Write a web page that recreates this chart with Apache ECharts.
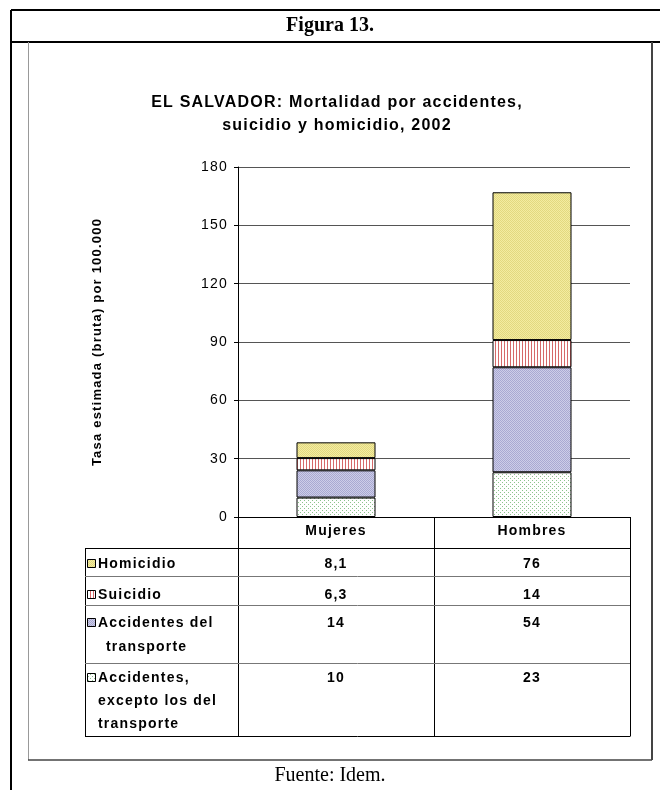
<!DOCTYPE html>
<html>
<head>
<meta charset="utf-8">
<script src="https://cdn.jsdelivr.net/npm/echarts@6/dist/echarts.min.js"></script>
<style>
html,body{margin:0;padding:0;background:#fff;}
#chart{width:660px;height:790px;}
</style>
</head>
<body>
<div id="chart"></div>
<script>
// ---- data ----
const categories = ['Mujeres', 'Hombres'];
const accidentesExcepto = [10, 23];
const accidentesTransporte = [14, 54];
const suicidio = [6.3, 14];
const homicidio = [8.1, 76];
const yTickMin = 0, yTickMax = 180, yTickStep = 30;
const rowLabels = {
  homicidio: ['Homicidio'],
  suicidio: ['Suicidio'],
  transporte: ['Accidentes del', 'transporte'],
  excepto: ['Accidentes,', 'excepto los del', 'transporte']
};
const seriesNames = {
  homicidio: 'Homicidio',
  suicidio: 'Suicidio',
  transporte: 'Accidentes del transporte',
  excepto: 'Accidentes, excepto los del transporte'
};
const figTitle = 'Figura 13.';
const chartTitle = 'EL SALVADOR: Mortalidad por accidentes,\nsuicidio y homicidio, 2002';
const yName = 'Tasa estimada (bruta) por 100.000';
const source = 'Fuente: Idem.';

// expanded character spacing for the sans-serif chart texts (as in the original)
(function () {
  const proto = CanvasRenderingContext2D.prototype;
  const origFill = proto.fillText;
  proto.fillText = function (t, x, y, m) {
    if ('letterSpacing' in this) {
      this.letterSpacing = /Sans/.test(this.font) ? '1.2px' : '0px';
    }
    return m === undefined ? origFill.call(this, t, x, y) : origFill.call(this, t, x, y, m);
  };
})();

// ---- patterns ----
function makePattern(w, h, bg, fg, pts) {
  const c = document.createElement('canvas');
  c.width = w; c.height = h;
  const ctx = c.getContext('2d');
  ctx.fillStyle = bg; ctx.fillRect(0, 0, w, h);
  ctx.fillStyle = fg;
  pts.forEach(p => ctx.fillRect(p[0], p[1], p[2] || 1, p[3] || 1));
  return {image: c, repeat: 'repeat'};
}
const patYellow = makePattern(2, 2, '#F3ECA0', '#E2D880', [[0,0],[1,1]]);
const patRed = makePattern(3, 1, '#FFFFFF', '#D66A6A', [[0,0]]);
const patBlue = makePattern(2, 2, '#CDCDE8', '#A9A9D2', [[0,0],[1,1]]);
const patGreen = makePattern(4, 4, '#FFFFFF', '#8CC48C', [[0,0],[2,2]]);
const fills = {homicidio: patYellow, suicidio: patRed, transporte: patBlue, excepto: patGreen};
const values = {homicidio: homicidio, suicidio: suicidio, transporte: accidentesTransporte, excepto: accidentesExcepto};

// ---- layout ----
const G = {left: 238, top: 167, width: 392, height: 350};
const gBottom = G.top + G.height;
const gRight = G.left + G.width;
const tableLeft = 85;
const headerBottom = 548;
const rowOrder = ['homicidio', 'suicidio', 'transporte', 'excepto'];
const rowBottoms = [576, 605, 663, 736];
const rowTextY = [[564], [595], [623, 647], [678, 701, 724]];
const colW = G.width / categories.length;
const sans = '"Liberation Sans", Arial, sans-serif';
const labelFont = 'bold 14px ' + sans;

function fmt(v) { return String(v).replace('.', ','); }

const graphics = [];
function line(x1, y1, x2, y2, color, w) {
  graphics.push({type: 'line', silent: true, z: 100,
    shape: {x1: x1, y1: y1, x2: x2, y2: y2},
    style: {stroke: color || '#000', lineWidth: w || 1}});
}
function text(t, x, y, font, align, fill) {
  graphics.push({type: 'text', silent: true, z: 100,
    style: {text: t, x: x, y: y, font: font, align: align || 'left', verticalAlign: 'middle', fill: fill || '#000'}});
}

// outer frame
line(11, 10, 660, 10, '#000', 2);
line(11, 42, 660, 42, '#000', 2);
line(11, 10, 11, 790, '#000', 2);
// inner box
line(28.5, 42, 28.5, 760, '#999', 1);
line(28, 760, 652, 760, '#444', 1.5);
line(652, 42, 652, 760, '#444', 2);

text(figTitle, 330, 26, 'bold 20px "Liberation Serif", "Times New Roman", serif', 'center');
text(source, 330, 776, '20px "Liberation Serif", "Times New Roman", serif', 'center');

// table lines
line(G.left + 0.5, gBottom, G.left + 0.5, rowBottoms[3] + 0.5);
for (let i = 1; i <= categories.length; i++) {
  const x = G.left + colW * i + 0.5;
  line(x, gBottom, x, rowBottoms[3] + 0.5);
}
line(G.left, headerBottom + 0.5, gRight, headerBottom + 0.5);
line(tableLeft + 0.5, headerBottom, tableLeft + 0.5, rowBottoms[3] + 0.5);
line(tableLeft, headerBottom + 0.5, G.left, headerBottom + 0.5);
rowBottoms.forEach((yb, i) => line(tableLeft, yb + 0.5, gRight, yb + 0.5, i === rowBottoms.length - 1 ? '#000' : '#777'));

// table rows
rowOrder.forEach((key, r) => {
  const ys = rowTextY[r];
  graphics.push({type: 'rect', silent: true, z: 100,
    shape: {x: 87.5, y: ys[0] - 4.5, width: 8, height: 8},
    style: {fill: fills[key], stroke: '#000', lineWidth: 1}});
  rowLabels[key].forEach((t, j) => {
    const indent = (key === 'transporte' && j === 1) ? 106 : 98;
    text(t, indent, ys[j], labelFont, 'left');
  });
  values[key].forEach((v, c) => {
    text(fmt(v), G.left + colW * (c + 0.5), ys[0], labelFont, 'center');
  });
});

function barSeries(key) {
  return {
    name: seriesNames[key], type: 'bar', stack: 'total', data: values[key],
    barWidth: 79,
    itemStyle: {color: fills[key], borderColor: '#000', borderWidth: 1},
    emphasis: {disabled: true}
  };
}

const chart = echarts.init(document.getElementById('chart'), null, {renderer: 'canvas'});
chart.setOption({
  animation: false,
  backgroundColor: '#fff',
  title: {
    text: chartTitle, left: 337, top: 91, textAlign: 'center', padding: 0,
    textStyle: {fontFamily: sans, fontWeight: 'bold', fontSize: 16, lineHeight: 23, color: '#000'}
  },
  grid: {left: G.left, top: G.top, width: G.width, height: G.height, containLabel: false},
  xAxis: {
    type: 'category', data: categories,
    axisLine: {lineStyle: {color: '#000', width: 1}},
    axisTick: {show: false},
    axisLabel: {margin: 7, color: '#000', fontFamily: sans, fontWeight: 'bold', fontSize: 14}
  },
  yAxis: {
    type: 'value', min: yTickMin, max: yTickMax, interval: yTickStep,
    name: yName, nameLocation: 'middle', nameGap: 134, nameRotate: 90,
    nameTextStyle: {fontFamily: sans, fontWeight: 'bold', fontSize: 13, color: '#000'},
    axisLine: {show: true, lineStyle: {color: '#000', width: 1}},
    axisTick: {show: true, length: 4, lineStyle: {color: '#000'}},
    axisLabel: {margin: 10, color: '#000', fontFamily: sans, fontSize: 14},
    splitLine: {lineStyle: {color: '#555', width: 1}}
  },
  series: ['excepto', 'transporte', 'suicidio', 'homicidio'].map(barSeries),
  graphic: graphics
});
</script>
</body>
</html>
